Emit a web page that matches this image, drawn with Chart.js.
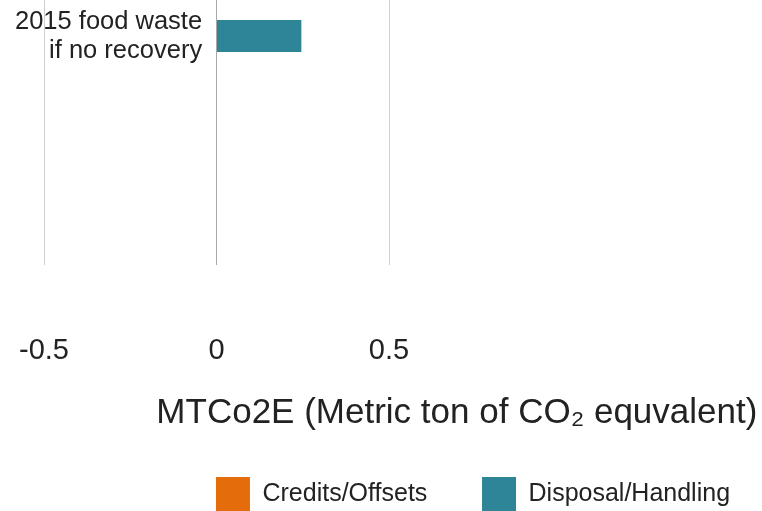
<!DOCTYPE html>
<html>
<head>
<meta charset="utf-8">
<title>MTCo2E</title>
<script src="https://cdn.jsdelivr.net/npm/chart.js@4/dist/chart.umd.min.js"></script>
<style>
  html, body { margin: 0; padding: 0; background: #ffffff; }
  #wrap { width: 762px; height: 511px; }
</style>
</head>
<body>
<div id="wrap"><canvas id="c" width="762" height="511"></canvas></div>
<script>
// Categories (each label split into its display lines) and series values
const categories = [['2015 food waste', 'if no recovery']];
const creditsOffsets = [0];
const disposalHandling = [0.246];
const xTickValues = [-0.5, 0, 0.5];
const seriesNames = ['Credits/Offsets', 'Disposal/Handling'];
const axisTitle = 'MTCo2E (Metric ton of CO\u2082 equvalent)';

const COLORS = { credits: '#e46c0a', disposal: '#2e8597' };
const TEXT = '#222222';

Chart.defaults.font.family = '"Liberation Sans", Arial, Helvetica, sans-serif';
Chart.defaults.color = TEXT;

const toPoints = vals => vals.map((v, i) => ({ x: v, y: i }));

new Chart(document.getElementById('c'), {
  type: 'bar',
  data: {
    datasets: [
      {
        label: seriesNames[0],
        data: toPoints(creditsOffsets),
        backgroundColor: COLORS.credits,
        borderWidth: 0,
        inflateAmount: 0,
        barThickness: 32
      },
      {
        label: seriesNames[1],
        data: toPoints(disposalHandling),
        backgroundColor: COLORS.disposal,
        borderWidth: 0,
        inflateAmount: 0,
        barThickness: 32
      }
    ]
  },
  options: {
    indexAxis: 'y',
    responsive: false,
    devicePixelRatio: 1,
    animation: false,
    layout: { padding: { top: 0, left: 0, right: -184, bottom: -10 } },
    scales: {
      x: {
        type: 'linear',
        stacked: true,
        min: -0.5,
        max: 0.5,
        afterBuildTicks: s => { s.ticks = xTickValues.map(v => ({ value: v })); },
        grid: {
          drawTicks: true,
          tickLength: 68.6,
          tickColor: 'rgba(0,0,0,0)',
          lineWidth: 1,
          color: c => (c.tick && c.tick.value === 0 ? '#a8a8a8' : '#d0d0d0')
        },
        border: { display: false },
        ticks: {
          padding: 0,
          font: { size: 29 },
          color: TEXT
        }
      },
      y: {
        type: 'linear',
        position: 'left',
        stacked: true,
        reverse: true,
        offset: false,
        min: -0.5,
        max: 3.18,
        afterBuildTicks: s => { s.ticks = categories.map((_, i) => ({ value: i })); },
        afterFit: s => { s.width = 44; },
        grid: { display: false, drawTicks: false },
        border: { display: false },
        ticks: {
          mirror: true,
          crossAlign: 'far',
          padding: -29,
          font: { size: 25.5, lineHeight: '29px' },
          color: TEXT,
          callback: v => categories[v]
        }
      },
      yRight: {
        type: 'linear',
        axis: 'y',
        position: 'right',
        afterFit: s => { s.width = 557; },
        grid: { display: false, drawTicks: false },
        border: { display: false },
        ticks: { display: false }
      }
    },
    plugins: {
      tooltip: { enabled: false },
      legend: {
        position: 'bottom',
        align: 'center',
        title: {
          display: true,
          text: axisTitle,
          position: 'end',
          color: TEXT,
          font: { size: 35 },
          padding: { top: 27.1, bottom: -15.2 }
        },
        labels: {
          boxWidth: 34,
          boxHeight: 34,
          padding: 54.7,
          color: TEXT,
          font: { size: 25 }
        }
      }
    }
  }
});
</script>
</body>
</html>
